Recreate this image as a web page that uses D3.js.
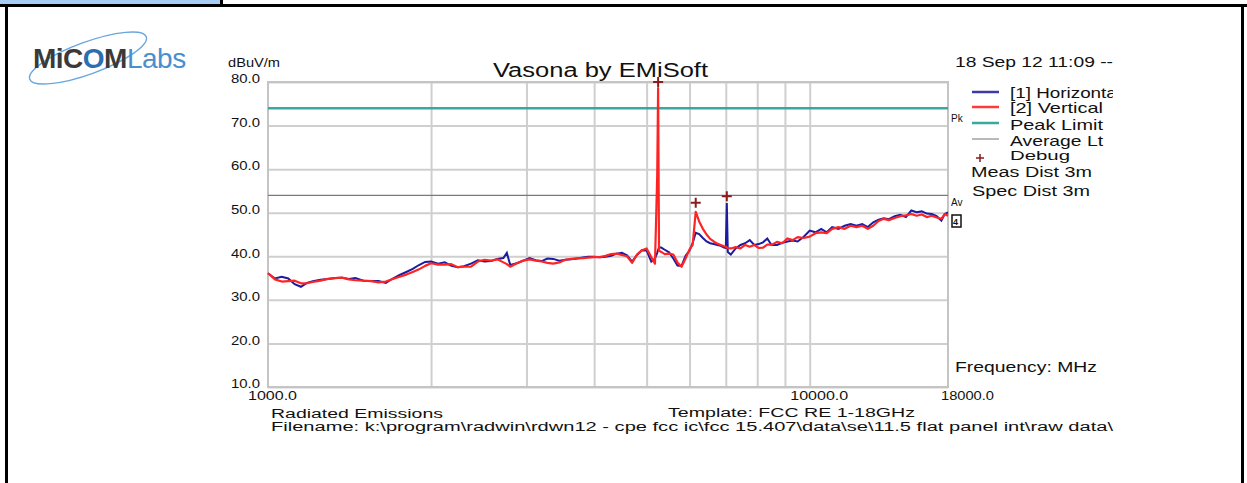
<!DOCTYPE html>
<html>
<head>
<meta charset="utf-8">
<script src="https://cdnjs.cloudflare.com/ajax/libs/d3/7.8.5/d3.min.js"></script>
<style>
  body { margin: 0; background: #fff; }
  svg text { font-family: "Liberation Sans", Arial, sans-serif; fill: #111; }
</style>
</head>
<body>
<div class="chart"></div>
<script>
// frequency grid (MHz) shared by both traces
var freqs = [1000,1030,1060,1090,1120,1150,1180,1210,1250,1290,1330,1370,1410,1450,1500,1550,1600,1650,1700,1750,
  1800,1850,1900,1950,2000,2060,2120,2180,2240,2300,2370,2440,2510,2580,2650,2720,2760,2800,2880,2960,
  3040,3120,3200,3280,3360,3450,3540,3630,3720,3810,3900,4000,4100,4200,4300,4400,4500,4600,4700,4800,
  4900,5000,5100,5180,5230,5250,5270,5320,5400,5500,5600,5700,5800,5900,6000,6080,6160,6250,6350,6450,
  6550,6650,6750,6850,6950,7000,7030,7060,7150,7300,7450,7600,7750,7900,8050,8200,8350,8500,8700,8900,
  9100,9300,9500,9750,10000,10250,10500,10750,11000,11300,11600,11900,12200,12500,12800,13100,13400,13700,14000,14350,
  14700,15050,15400,15750,16100,16450,16800,17150,17500,17750,18000];

// [1] Horizontal, dBuV/m
var horizontal = [36.1,34.9,35.3,34.9,33.6,33.0,33.9,34.3,34.6,34.8,35.0,35.1,34.8,35.0,34.4,34.3,34.3,33.9,34.9,35.7,
  36.4,37.1,38.0,38.7,38.8,38.3,38.6,37.8,37.5,37.7,38.3,39.1,38.8,38.9,39.4,39.6,40.8,38.0,38.4,39.0,
  39.6,39.1,38.9,39.5,39.4,39.0,39.2,39.3,39.5,39.7,39.9,39.9,39.8,39.9,40.1,40.6,40.8,40.2,38.8,40.3,
  41.4,41.3,38.8,39.5,40.8,41.5,42.0,42.0,41.5,40.9,39.5,37.9,37.8,40.1,41.3,43.0,45.4,45.1,44.2,43.4,
  43.0,42.8,42.6,42.4,42.0,41.9,52.2,41.0,40.4,41.8,42.6,43.0,43.7,42.6,42.8,43.2,44.1,42.6,42.6,43.1,
  43.4,43.6,43.4,44.5,45.9,45.5,46.3,45.5,46.7,46.3,47.0,47.4,47.0,47.4,46.7,47.8,48.4,48.7,48.5,49.2,
  49.5,49.0,50.5,50.1,50.3,49.8,49.7,49.2,48.2,49.7,50.1];

// [2] Vertical, dBuV/m
var vertical = [36.1,34.7,34.2,34.3,34.4,33.8,33.8,34.1,34.4,34.8,35.0,35.1,34.7,34.5,34.4,34.3,34.0,34.2,34.8,35.3,
  35.8,36.4,37.0,37.8,38.4,38.1,38.1,38.2,37.5,37.6,37.6,38.8,39.2,39.0,39.3,38.6,38.2,37.6,38.4,39.0,
  39.3,39.0,38.8,38.5,38.3,38.6,39.2,39.4,39.5,39.6,39.7,39.8,39.8,40.1,40.5,40.6,40.3,40.0,38.5,40.4,
  41.4,41.8,39.8,38.3,58.6,78.6,41.3,41.0,40.5,40.6,40.4,38.6,37.6,39.5,41.6,42.6,50.2,48.0,46.3,45.0,
  44.0,43.4,42.9,42.6,42.3,42.2,42.0,41.9,41.8,42.1,41.8,42.6,42.2,42.6,41.9,42.0,42.7,42.6,43.3,43.0,
  44.1,43.7,44.4,44.2,44.5,45.3,45.5,45.3,46.3,46.7,46.3,47.0,46.7,47.0,46.3,47.0,48.1,48.6,48.3,48.8,
  49.2,49.4,49.7,49.3,49.6,49.0,49.3,48.9,48.6,49.7,49.3];

// debug markers
var markerFreqs = [5250, 6160, 7030];
var markerLevels = [80.0, 52.3, 53.8];

var peakLimit = 74;
var averageLimit = 54;

var yTicks = [10, 20, 30, 40, 50, 60, 70, 80];
var xGrid = [2000, 3000, 4000, 5000, 6000, 7000, 8000, 9000, 10000];
var xTicks = [1000, 10000, 18000];

var legendNames = ["[1] Horizontal", "[2] Vertical", "Peak Limit", "Average Lt", "Debug"];
var legendColors = ["#3a3aa8", "#ff3a3a", "#3aa89e", "#8a8a8a"];

var svgWidth = 1247;
var svgHeight = 483;
var plot = { left: 268, right: 948, top: 82, bottom: 387 };

var svg = d3.select(".chart").append("svg")
  .attr("width", svgWidth)
  .attr("height", svgHeight);

// page frame
svg.append("rect").attr("x", 0).attr("y", 0).attr("width", 220).attr("height", 4).attr("fill", "#a8cdf5");
svg.append("rect").attr("x", 0).attr("y", 4).attr("width", svgWidth).attr("height", 3).attr("fill", "#000");
svg.append("rect").attr("x", 220).attr("y", 0).attr("width", 3).attr("height", 5).attr("fill", "#000");
svg.append("rect").attr("x", 5).attr("y", 4).attr("width", 3).attr("height", svgHeight).attr("fill", "#000");
svg.append("rect").attr("x", 1241).attr("y", 4).attr("width", 3).attr("height", svgHeight).attr("fill", "#000");

// logo
var logo = svg.append("g");
logo.append("ellipse")
  .attr("cx", 88).attr("cy", 58).attr("rx", 62).attr("ry", 16)
  .attr("transform", "rotate(-20, 88, 58)")
  .attr("fill", "none").attr("stroke", "#6aa6dc").attr("stroke-width", 1.4);
var logoText = logo.append("text").attr("x", 33).attr("y", 68).style("font-size", "28px")
  .style("letter-spacing", "-0.5px");
logoText.append("tspan").text("MiC").style("font-weight", "bold").style("fill", "#3a3a3a");
logoText.append("tspan").text("O").style("font-weight", "bold").style("fill", "#2c6fb0");
logoText.append("tspan").text("M").style("font-weight", "bold").style("fill", "#3a3a3a");
logoText.append("tspan").text("Labs").style("fill", "#4a8fd0");

var x = d3.scaleLog().domain([1000, 18000]).range([plot.left, plot.right]);
var y = d3.scaleLinear().domain([10, 80]).range([plot.bottom, plot.top]);

// grid
svg.append("g")
  .attr("transform", `translate(0, ${plot.bottom})`)
  .call(d3.axisBottom(x).tickValues(xGrid).tickSize(-(plot.bottom - plot.top)).tickFormat(""))
  .call(g => g.select(".domain").remove())
  .call(g => g.selectAll("line").attr("stroke", "#cfcfcf").attr("stroke-width", 2));

svg.append("g")
  .attr("transform", `translate(${plot.left}, 0)`)
  .call(d3.axisLeft(y).tickValues(yTicks).tickSize(-(plot.right - plot.left)).tickFormat(""))
  .call(g => g.select(".domain").remove())
  .call(g => g.selectAll("line").attr("stroke", "#cfcfcf").attr("stroke-width", 2));

svg.append("rect")
  .attr("x", plot.left).attr("y", plot.top)
  .attr("width", plot.right - plot.left).attr("height", plot.bottom - plot.top)
  .attr("fill", "none").attr("stroke", "#c4c4c4").attr("stroke-width", 2);

// tick labels
svg.append("g")
  .attr("transform", `translate(${plot.left - 5}, -3)`)
  .call(d3.axisLeft(y).tickValues(yTicks).tickSize(0).tickFormat(d3.format(".1f")))
  .call(g => g.select(".domain").remove())
  .call(g => g.selectAll("text").style("font-size", "12px").attr("fill", "#111")
    .attr("textLength", 29).attr("lengthAdjust", "spacingAndGlyphs"));

var xLabelShift = [4, 9, 19];
var xLabelWidth = [49, 58, 53];
svg.append("g")
  .attr("transform", `translate(0, ${plot.bottom + 1})`)
  .call(d3.axisBottom(x).tickValues(xTicks).tickSize(0).tickFormat(d3.format(".1f")))
  .call(g => g.select(".domain").remove())
  .call(g => g.selectAll("text").style("font-size", "12px").attr("fill", "#111")
    .attr("dx", (d, i) => xLabelShift[i])
    .attr("textLength", (d, i) => xLabelWidth[i]).attr("lengthAdjust", "spacingAndGlyphs"));

// limit lines
svg.append("line")
  .attr("x1", plot.left).attr("x2", plot.right)
  .attr("y1", y(peakLimit)).attr("y2", y(peakLimit))
  .attr("stroke", legendColors[2]).attr("stroke-width", 2.5);
svg.append("line")
  .attr("x1", plot.left).attr("x2", plot.right)
  .attr("y1", y(averageLimit)).attr("y2", y(averageLimit))
  .attr("stroke", "#7a7a7a").attr("stroke-width", 1.2);

// traces
var line = d3.line()
  .x((d, i) => x(freqs[i]))
  .y(d => y(d));

svg.append("path")
  .datum(horizontal)
  .attr("d", line)
  .attr("fill", "none")
  .attr("stroke", "#1c1ca0")
  .attr("stroke-width", 2);

svg.append("path")
  .datum(vertical)
  .attr("d", line)
  .attr("fill", "none")
  .attr("stroke", "#ff2424")
  .attr("stroke-width", 2.2)
  .attr("stroke-linejoin", "round");

// markers
svg.selectAll(".marker")
  .data(markerFreqs)
  .enter()
  .append("path")
  .attr("class", "marker")
  .attr("d", (d, i) => {
    var cx = x(d), cy = y(markerLevels[i]);
    return `M${cx - 5},${cy}H${cx + 5}M${cx},${cy - 5}V${cy + 5}`;
  })
  .attr("stroke", "#8b1c1c")
  .attr("stroke-width", 2);

// titles
svg.append("text").attr("x", 493).attr("y", 77)
  .style("font-size", "20px").attr("textLength", 215).attr("lengthAdjust", "spacingAndGlyphs")
  .text("Vasona by EMiSoft");
svg.append("text").attr("x", 228).attr("y", 67)
  .style("font-size", "12px").attr("textLength", 52).attr("lengthAdjust", "spacingAndGlyphs").text("dBuV/m");
svg.append("text").attr("x", 955).attr("y", 67)
  .style("font-size", "14px").attr("textLength", 158).attr("lengthAdjust", "spacingAndGlyphs")
  .text("18 Sep 12 11:09 --");

// legend
var legend = svg.append("g");
var legendY = [92, 107, 123, 139];
legendColors.forEach(function(c, i) {
  legend.append("line")
    .attr("x1", 972).attr("x2", 999)
    .attr("y1", legendY[i]).attr("y2", legendY[i])
    .attr("stroke", c)
    .attr("stroke-width", i === 3 ? 1.2 : 2.5);
});
svg.append("clipPath").attr("id", "legclip")
  .append("rect").attr("x", 1000).attr("y", 80).attr("width", 113).attr("height", 90);
var legendText = legend.append("g").attr("clip-path", "url(#legclip)");
var legendTextY = [98, 113, 130, 146, 160];
var legendTextW = [111, 93, 93, 93, 60];
legendNames.forEach(function(name, i) {
  legendText.append("text")
    .attr("x", 1010).attr("y", legendTextY[i])
    .style("font-size", i === 4 ? "13px" : "15px")
    .attr("textLength", legendTextW[i]).attr("lengthAdjust", "spacingAndGlyphs")
    .text(name);
});
legend.append("path")
  .attr("d", "M976,158H984M980,154V162")
  .attr("stroke", "#8b1c1c").attr("stroke-width", 1.5);
svg.append("text").attr("x", 971).attr("y", 177).style("font-size", "14px")
  .attr("textLength", 121).attr("lengthAdjust", "spacingAndGlyphs").text("Meas Dist 3m");
svg.append("text").attr("x", 972).attr("y", 196).style("font-size", "14px")
  .attr("textLength", 118).attr("lengthAdjust", "spacingAndGlyphs").text("Spec Dist 3m");

svg.append("text").attr("x", 951).attr("y", 122).style("font-size", "10px").text("Pk");
svg.append("text").attr("x", 951).attr("y", 206).style("font-size", "10px").text("Av");
svg.append("rect").attr("x", 952).attr("y", 215).attr("width", 9).attr("height", 12)
  .attr("fill", "none").attr("stroke", "#111").attr("stroke-width", 1.5);
svg.append("text").attr("x", 953).attr("y", 225).style("font-size", "9px").style("font-weight", "bold").text("4");

svg.append("text").attr("x", 955).attr("y", 372).style("font-size", "15px")
  .attr("textLength", 142).attr("lengthAdjust", "spacingAndGlyphs").text("Frequency: MHz");

// footer
svg.append("text").attr("x", 271).attr("y", 418).style("font-size", "12.5px")
  .attr("textLength", 172).attr("lengthAdjust", "spacingAndGlyphs").text("Radiated Emissions");
svg.append("text").attr("x", 668).attr("y", 417).style("font-size", "12.5px")
  .attr("textLength", 247).attr("lengthAdjust", "spacingAndGlyphs").text("Template: FCC RE 1-18GHz");
svg.append("text").attr("x", 271).attr("y", 431).style("font-size", "12.5px")
  .attr("textLength", 842).attr("lengthAdjust", "spacingAndGlyphs")
  .text("Filename: k:\\program\\radwin\\rdwn12 - cpe fcc ic\\fcc 15.407\\data\\se\\11.5 flat panel int\\raw data\\");
</script>
</body>
</html>
